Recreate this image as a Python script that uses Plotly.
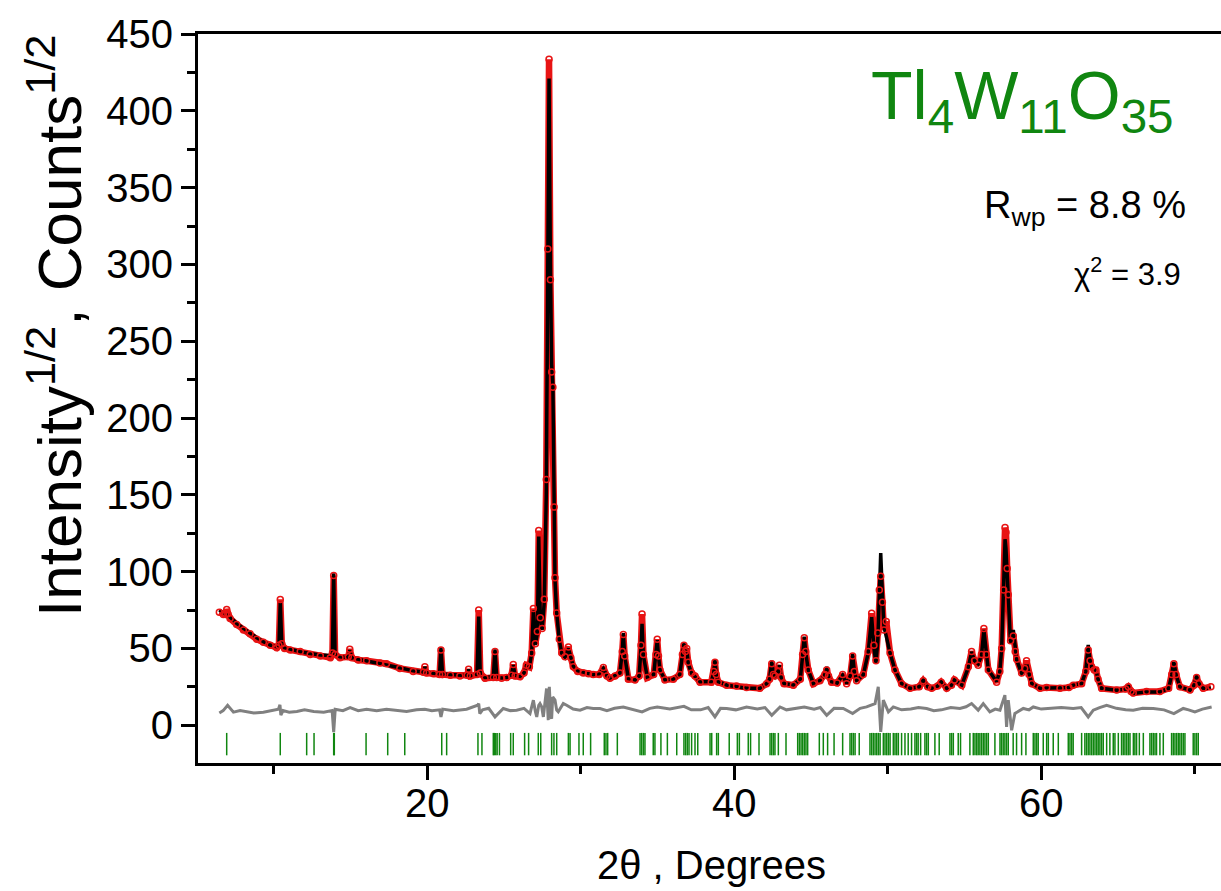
import plotly.graph_objects as go

# Powder pattern: 2-theta grid with calculated and observed intensity (sqrt counts)
two_theta = [
    6.45, 6.71, 6.86, 6.93, 7.00, 7.15, 7.58, 8.02, 8.45, 8.89, 9.32, 9.76, 10.19, 10.33, 10.42, 10.52,
    10.70, 11.07, 11.72, 12.37, 13.03, 13.68, 13.82, 13.90, 13.99, 14.31, 14.85, 14.95, 15.08, 15.50,
    16.04, 16.91, 17.34, 18.21, 19.08, 19.75, 19.84, 19.95, 20.40, 20.80, 20.89, 20.99, 21.50, 22.12,
    22.60, 22.69, 22.80, 23.24, 23.35, 23.45, 23.76, 24.30, 24.41, 24.52, 24.84, 25.17, 25.48, 25.60,
    25.72, 26.04, 26.30, 26.45, 26.65, 26.80, 26.91, 27.04, 27.17, 27.26, 27.36, 27.48, 27.62, 27.75,
    27.85, 27.93, 28.02, 28.10, 28.18, 28.26, 28.32, 28.43, 28.60, 28.76, 28.97, 29.19, 29.35, 29.51,
    29.80, 30.16, 30.50, 30.81, 31.20, 31.47, 31.70, 31.90, 32.23, 32.55, 32.70, 32.77, 32.86, 33.10,
    33.53, 33.80, 33.92, 33.99, 34.08, 34.33, 34.75, 34.90, 34.98, 35.06, 35.16, 35.48, 36.03, 36.45,
    36.62, 36.72, 36.82, 36.90, 37.00, 37.22, 37.44, 37.77, 38.50, 38.66, 38.74, 38.82, 38.96, 39.50,
    40.15, 40.80, 41.67, 42.11, 42.30, 42.44, 42.55, 42.65, 42.85, 42.94, 43.05, 43.24, 43.85, 44.30,
    44.45, 44.56, 44.66, 44.82, 45.15, 45.58, 45.90, 46.02, 46.14, 46.34, 46.70, 47.06, 47.32, 47.55,
    47.71, 47.82, 47.97, 48.40, 48.72, 48.95, 49.10, 49.23, 49.35, 49.45, 49.54, 49.65, 49.75, 49.90,
    50.15, 50.47, 50.90, 51.45, 52.05, 52.31, 52.60, 52.86, 53.25, 53.48, 53.84, 54.15, 54.34, 54.82,
    55.25, 55.46, 55.65, 55.89, 56.10, 56.26, 56.42, 56.55, 57.09, 57.30, 57.42, 57.55, 57.64, 57.70,
    57.78, 57.85, 58.00, 58.18, 58.30, 58.40, 58.72, 58.92, 59.04, 59.20, 59.38, 59.92, 60.35, 61.22,
    61.80, 62.08, 62.63, 62.90, 63.06, 63.18, 63.28, 63.45, 63.56, 63.70, 63.93, 64.91, 65.50, 65.67,
    65.85, 65.99, 66.86, 67.73, 68.30, 68.50, 68.64, 68.78, 69.03, 69.69, 69.95, 70.12, 70.28, 70.55,
    71.05,
]

y_calc = [
    75.0, 72.9, 72.5, 73.9, 71.8, 70.2, 66.3, 63.1, 59.8, 57.0, 54.4, 52.2, 51.1, 51.5, 80.4, 52.0,
    50.5, 49.4, 47.8, 46.7, 45.7, 45.4, 46.5, 98.9, 46.5, 44.6, 44.0, 48.9, 43.8, 43.0,
    42.0, 40.2, 39.2, 37.4, 35.4, 34.6, 38.0, 34.4, 33.8, 33.5, 50.7, 33.4, 33.0, 32.6,
    32.3, 36.3, 32.2, 33.0, 70.7, 33.0, 31.1, 31.5, 49.4, 31.5, 30.8, 31.1, 32.5, 39.1,
    32.5, 31.8, 34.0, 38.5, 38.0, 46.8, 75.0, 52.2, 60.0, 122.8, 70.0, 62.0, 80.0, 150.0,
    300.0, 421.0, 300.0, 235.0, 222.0, 140.0, 94.6, 72.9, 55.4, 46.7, 44.2, 50.0, 44.0, 38.5,
    35.5, 34.5, 33.5, 32.8, 33.5, 37.0, 32.0, 30.8, 32.5, 34.0, 48.0, 60.0, 45.0, 30.4,
    29.6, 32.0, 50.0, 66.0, 45.0, 31.5, 33.0, 45.0, 55.4, 45.0, 36.0, 29.6, 30.0, 33.0,
    45.0, 53.3, 47.0, 50.0, 40.0, 33.7, 31.5, 28.3, 28.5, 34.0, 43.0, 33.0, 28.3, 26.2,
    25.1, 24.0, 24.0, 27.2, 30.0, 42.0, 33.0, 31.5, 35.0, 39.1, 31.0, 27.2, 26.2, 30.0,
    45.0, 57.6, 47.0, 35.9, 27.2, 29.3, 33.0, 38.0, 32.0, 28.3, 27.5, 32.6, 27.2, 32.0,
    46.5, 35.0, 29.3, 32.6, 46.8, 70.7, 50.0, 40.2, 55.0, 85.0, 112.0, 85.0, 64.1, 58.0,
    46.8, 36.0, 27.2, 24.0, 25.0, 29.4, 25.0, 24.0, 25.5, 28.3, 24.0, 26.0, 29.4, 26.1,
    37.6, 47.8, 42.0, 40.0, 45.0, 62.0, 45.0, 36.0, 28.5, 35.0, 50.0, 85.0, 121.1, 115.0,
    100.0, 88.0, 53.3, 62.0, 48.0, 42.4, 33.7, 36.0, 40.2, 33.0, 27.2, 24.0, 24.0, 24.0,
    24.5, 26.1, 27.2, 35.0, 52.2, 42.0, 37.9, 36.0, 36.0, 30.0, 24.0, 22.8, 23.5, 26.1,
    22.0, 20.7, 21.7, 21.7, 24.0, 33.0, 41.3, 33.0, 25.0, 22.8, 26.0, 32.6, 27.0, 24.0,
    24.0,
]

y_obs = [
    73.5, 72.0, 72.0, 75.4, 72.5, 69.5, 65.5, 62.0, 59.5, 56.0, 54.0, 52.0, 50.5, 52.0, 81.9, 53.0,
    50.0, 49.0, 48.0, 46.0, 45.0, 44.0, 47.0, 97.5, 46.0, 44.0, 44.5, 49.5, 44.0, 42.5,
    42.0, 40.5, 40.0, 37.0, 35.0, 34.5, 38.0, 34.0, 33.5, 33.0, 49.0, 33.0, 32.5, 32.0,
    32.5, 36.5, 32.0, 33.0, 75.0, 34.0, 30.5, 31.0, 48.0, 31.0, 30.5, 31.0, 32.5, 39.5,
    32.0, 31.5, 34.0, 39.0, 38.0, 47.0, 76.0, 53.0, 61.0, 126.7, 70.0, 63.0, 82.0, 160.0,
    310.0, 433.5, 290.0, 230.0, 220.0, 142.0, 96.0, 73.0, 56.0, 47.0, 44.5, 51.0, 44.0, 38.0,
    35.0, 34.0, 33.5, 33.0, 33.0, 37.5, 32.0, 30.5, 32.0, 34.0, 48.0, 59.0, 45.0, 30.0,
    29.5, 32.0, 52.0, 72.4, 46.0, 31.0, 33.0, 46.0, 56.0, 45.0, 36.0, 29.5, 30.0, 33.0,
    46.0, 52.0, 48.0, 50.0, 41.0, 34.0, 32.0, 28.0, 28.0, 35.0, 41.0, 33.0, 28.0, 26.0,
    25.5, 24.5, 24.0, 27.0, 30.0, 40.0, 33.0, 32.0, 35.0, 39.0, 31.0, 27.0, 26.0, 30.0,
    46.0, 57.0, 48.0, 36.0, 27.0, 29.0, 33.0, 36.0, 32.0, 28.0, 27.5, 33.0, 27.0, 32.0,
    45.0, 35.0, 29.0, 33.0, 48.0, 72.9, 52.0, 42.0, 60.0, 88.0, 97.0, 80.0, 62.0, 67.6,
    47.0, 36.0, 27.0, 24.0, 25.0, 29.0, 25.0, 24.0, 25.5, 28.0, 24.0, 26.0, 29.5, 26.0,
    38.0, 48.0, 42.0, 39.0, 46.0, 63.0, 46.0, 36.0, 28.0, 35.0, 50.0, 88.0, 128.7, 125.7,
    102.0, 85.0, 55.0, 58.0, 48.0, 43.0, 34.0, 37.0, 42.0, 33.0, 27.0, 24.0, 24.5, 24.0,
    24.5, 26.0, 27.0, 35.0, 49.0, 42.0, 38.0, 36.0, 36.0, 30.0, 24.0, 23.0, 23.5, 25.0,
    22.0, 21.0, 22.0, 22.0, 24.0, 33.0, 40.0, 33.0, 25.0, 23.0, 26.0, 31.0, 27.0, 24.0,
    25.0,
]

# Difference curve (obs - calc, offset), drawn in grey
diff_theta = [
    6.45, 6.70, 6.99, 7.37, 7.80, 8.23, 8.70, 9.32, 9.80, 10.30, 10.40, 10.46, 10.60, 11.00, 11.50,
    12.00, 12.60, 13.25, 13.80, 13.90, 14.00, 14.50, 14.97, 15.50, 16.04, 16.70, 17.34, 18.00,
    18.65, 19.30, 19.84, 20.30, 20.80, 20.89, 21.00, 21.70, 22.56, 23.28, 23.35, 23.42, 23.60,
    24.00, 24.41, 24.95, 25.40, 25.82, 26.30, 26.69, 26.91, 27.04, 27.13, 27.26, 27.34, 27.45,
    27.56, 27.77, 27.88, 27.95, 28.04, 28.10, 28.17, 28.32, 28.43, 28.53, 28.86, 29.08, 29.50,
    29.95, 30.40, 30.81, 31.25, 31.70, 32.20, 32.77, 33.40, 33.99, 34.50, 34.98, 35.80, 36.72,
    37.20, 37.80, 38.30, 38.74, 39.10, 39.50, 40.10, 40.80, 41.50, 42.00, 42.44, 42.98, 43.40,
    43.85, 44.56, 45.20, 45.60, 46.02, 46.50, 47.10, 47.71, 48.20, 48.62, 49.17, 49.38, 49.46,
    49.54, 49.71, 50.04, 50.36, 50.90, 51.50, 52.00, 52.53, 53.00, 53.50, 54.10, 54.70, 55.10,
    55.46, 55.89, 56.22, 56.65, 57.00, 57.31, 57.63, 57.74, 57.85, 58.07, 58.28, 58.83, 59.20,
    59.48, 60.00, 60.56, 61.30, 62.08, 62.60, 63.06, 63.39, 63.80, 64.26, 64.90, 65.50, 65.99,
    66.60, 67.30, 68.00, 68.64, 69.25, 69.60, 70.01, 70.50, 71.10,
]
y_diff = [
    8.0, 9.5, 13.0, 8.5, 9.5, 9.0, 8.0, 8.5, 9.5, 10.4, 13.3, 6.5, 9.5, 8.5, 9.0,
    10.0, 9.0, 8.5, 9.5, -4.5, 10.4, 9.5, 11.4, 9.5, 10.4, 9.5, 10.4, 9.5,
    9.0, 10.0, 10.4, 9.5, 10.0, 5.4, 10.5, 9.5, 10.4, 13.0, 14.1, 7.6, 10.0,
    11.0, 5.4, 10.9, 9.5, 9.8, 11.0, 7.6, 16.3, 9.0, 5.4, 13.0, 14.1, 12.0,
    5.4, 23.9, 3.3, 25.0, 5.4, 4.3, 18.4, 16.3, 9.8, 8.7, 14.1, 13.0, 10.5,
    9.8, 11.5, 10.9, 10.9, 9.5, 11.0, 11.9, 10.0, 8.7, 11.0, 11.9, 10.5, 12.3,
    10.0, 10.0, 11.5, 5.4, 11.0, 10.9, 10.0, 11.9, 10.5, 11.5, 6.5, 11.9, 10.0,
    10.9, 11.9, 10.5, 11.5, 6.5, 11.0, 10.9, 7.6, 11.0, 11.9, 14.1, 25.0, 10.0,
    -4.3, 16.3, 8.7, 11.9, 10.0, 10.5, 11.5, 10.9, 9.5, 10.0, 11.5, 10.9, 12.0,
    14.1, 9.8, 14.1, 8.7, 10.5, 9.8, 19.6, -1.1, 16.3, -3.3, 7.6, 10.9, 10.0,
    11.9, 10.5, 10.9, 11.5, 10.9, 11.5, 5.4, 9.8, 11.5, 13.0, 11.0, 10.0, 9.8,
    11.0, 10.9, 10.0, 7.6, 10.9, 10.0, 8.7, 10.5, 11.9,
]

# Bragg reflection positions
reflections = [
    6.93, 10.42, 12.14, 12.62, 13.90, 13.94, 16.01, 17.42, 18.53, 20.94, 21.26, 23.30, 23.56,
    24.30, 24.37, 24.46, 24.55, 24.70, 25.43, 25.60, 26.34, 26.60, 27.23, 27.39, 28.10, 28.25,
    28.43, 29.19, 29.30, 29.88, 30.16, 30.64, 31.53, 31.64, 31.75, 32.38, 33.86, 33.97, 34.08,
    34.18, 34.72, 34.83, 35.22, 35.64, 36.25, 36.72, 36.83, 36.94, 37.05, 37.22, 37.44, 37.62,
    38.42, 38.53, 38.85, 38.96, 39.67, 40.20, 40.33, 40.91, 41.06, 41.61, 42.33, 42.44, 42.55,
    42.65, 42.87, 43.37, 44.13, 44.24, 44.35, 44.46, 44.57, 44.67, 44.78, 45.54, 45.80, 46.08,
    46.50, 47.06, 47.54, 47.65, 47.76, 47.87, 48.14, 48.84, 48.95, 49.06, 49.17, 49.28, 49.39,
    49.50, 49.71, 49.82, 49.93, 50.04, 50.15, 50.36, 50.47, 50.58, 50.69, 50.90, 51.12, 51.33,
    51.55, 51.77, 51.88, 51.98, 52.14, 52.42, 52.53, 52.64, 53.07, 53.35, 54.05, 54.16, 54.27,
    54.59, 54.74, 55.35, 55.57, 55.68, 55.79, 55.89, 56.00, 56.11, 56.22, 56.33, 56.44, 56.55,
    56.98, 57.31, 57.41, 57.52, 57.63, 57.74, 57.85, 58.17, 58.39, 58.72, 59.00, 59.48, 59.59,
    59.70, 59.80, 60.13, 60.35, 60.46, 60.78, 61.11, 61.76, 61.87, 61.98, 62.08, 62.63, 62.84,
    62.95, 63.06, 63.17, 63.28, 63.39, 63.50, 63.61, 63.71, 63.82, 63.93, 64.04, 64.26, 64.47,
    64.69, 64.80, 65.02, 65.23, 65.34, 65.45, 65.56, 65.67, 65.78, 66.00, 66.10, 66.21, 66.39,
    66.65, 67.08, 67.19, 67.30, 67.41, 67.51, 67.73, 67.95, 68.49, 68.60, 68.71, 68.82, 68.93,
    69.03, 69.14, 69.25, 69.36, 69.90, 70.01, 70.12, 70.23,
]

RED = "rgb(232,20,20)"
GREEN = "rgb(16,134,16)"
GREY = "rgb(128,128,128)"
FONT = "Liberation Sans, Arial, sans-serif"

W, H = 1221, 891
ML, MR, MT, MB = 198, 0, 34, 128
PW, PH = W - ML - MR, H - MT - MB


def px(xp):
    return (xp - ML) / PW


def py(yp):
    return 1 - (yp - MT) / PH


fig = go.Figure()

# observed band
fig.add_trace(go.Scatter(x=two_theta, y=y_obs, mode="lines",
                         line=dict(color=RED, width=6.5), hoverinfo="skip"))
# difference
fig.add_trace(go.Scatter(x=diff_theta, y=y_diff, mode="lines",
                         line=dict(color=GREY, width=3)))
# calculated
fig.add_trace(go.Scatter(x=two_theta, y=y_calc, mode="lines",
                         line=dict(color="black", width=3.5)))
# observed points
fig.add_trace(go.Scatter(x=two_theta, y=y_obs, mode="markers",
                         marker=dict(symbol="circle-open", size=6, color=RED,
                                     line=dict(width=1.5, color=RED))))
# reflection markers
fig.add_trace(go.Scatter(x=reflections, y=[-12.3] * len(reflections), mode="markers",
                         marker=dict(symbol="line-ns", size=16,
                                     line=dict(width=1.5, color=GREEN))))

fig.update_layout(
    width=W, height=H,
    margin=dict(l=ML, r=MR, t=MT, b=MB, pad=0),
    plot_bgcolor="white", paper_bgcolor="white",
    showlegend=False,
    font=dict(family=FONT, color="black"),
)

fig.update_xaxes(
    range=[5.06, 71.71], tickvals=[20, 40, 60],
    ticks="outside", ticklen=14, tickwidth=3, tickcolor="black",
    showline=True, linewidth=3, linecolor="black", mirror=True,
    showgrid=False, zeroline=False,
    tickfont=dict(size=40, family=FONT),
    ticklabelstandoff=-11,
    minor=dict(tickvals=[10, 30, 50, 70], ticks="outside", ticklen=8,
               tickwidth=3, tickcolor="black", showgrid=False),
)
fig.update_yaxes(
    range=[-24.6, 450], tick0=0, dtick=50,
    ticks="outside", ticklen=14, tickwidth=3, tickcolor="black",
    showline=True, linewidth=3, linecolor="black", mirror=False,
    showgrid=False, zeroline=False,
    tickfont=dict(size=40, family=FONT),
    minor=dict(tick0=0, dtick=25, ticks="outside", ticklen=8,
               tickwidth=3, tickcolor="black", showgrid=False),
)

annotations = [
    dict(text="Intensity<sup>1/2</sup>, Counts<sup>1/2</sup>", textangle=-90,
         x=px(55), y=py(326), xanchor="center", yanchor="middle",
         font=dict(size=62, family=FONT, color="black")),
    dict(text="2θ , Degrees", x=px(711), y=py(865), xanchor="center", yanchor="middle",
         font=dict(size=40, family=FONT, color="black")),
    dict(text="Tl<sub>4</sub>W<sub>11</sub>O<sub>35</sub>", x=px(1176), y=py(100),
         xanchor="right", yanchor="middle",
         font=dict(size=68, family=FONT, color=GREEN)),
    dict(text="R<sub>wp</sub> = 8.8 %", x=px(1188), y=py(208),
         xanchor="right", yanchor="middle",
         font=dict(size=38, family=FONT, color="black")),
    dict(text="χ<sup>2</sup> = 3.9", x=px(1183), y=py(272),
         xanchor="right", yanchor="middle",
         font=dict(size=31, family=FONT, color="black")),
]
for a in annotations:
    a.update(xref="paper", yref="paper", showarrow=False)
fig.update_layout(annotations=annotations)

fig.write_html("out.html")
